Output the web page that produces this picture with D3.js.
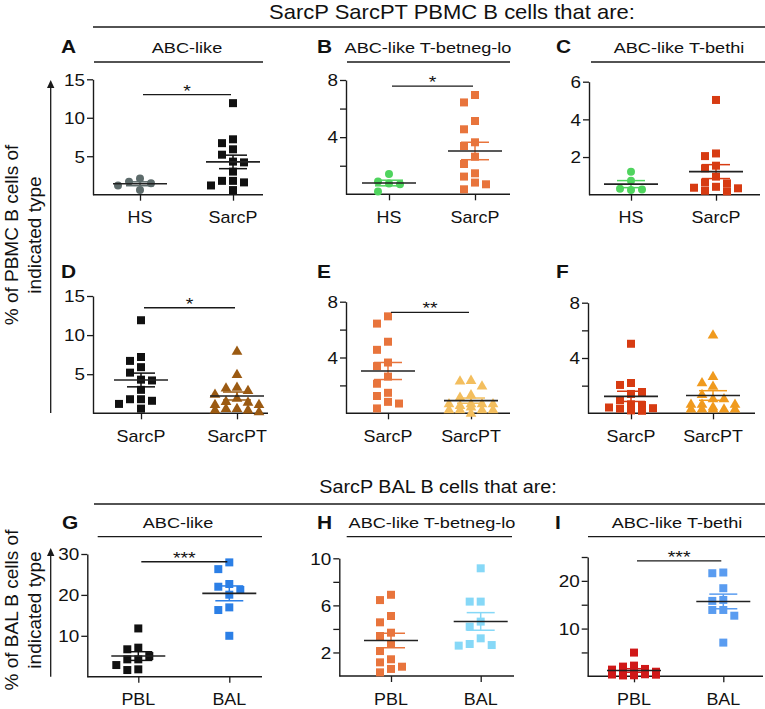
<!DOCTYPE html>
<html><head><meta charset="utf-8">
<script src="https://cdn.jsdelivr.net/npm/d3@7"></script>
<style>
body{margin:0;background:#fff;}
svg{display:block;font-family:"Liberation Sans",Arial,Helvetica,sans-serif;}
</style></head><body>
<svg id="chart" width="765" height="709"></svg>
<script>
// ---------------- DATA ----------------
const catsHS = ["HS", "SarcP"];
const catsPT = ["SarcP", "SarcPT"];
const catsBAL = ["PBL", "BAL"];

// % of PBMC B cells – ABC-like
const hsABC = [1.5, 2.1, 1.2, 1.7, 0.6];
const sarcpABC = [11.9, 7.2, 6.7, 5.9, 5.2, 4.3, 4.2, 3.0, 1.8, 1.8, 1.6, 1.2, 0.6];
const sarcptABC = [8.0, 5.04, 3.3, 3.4, 3.0, 2.5, 2.0, 1.6, 1.5, 1.2, 1.2, 0.68, 0.68, 0.51, 0.51, 0.26];
// ABC-like T-betneg-lo
const hsTbetLo = [0.75, 1.42, 0.7, 0.89, 0.19];
const sarcpTbetLo = [6.95, 6.43, 5.13, 4.55, 3.64, 3.38, 2.63, 2.12, 1.47, 1.24, 0.82, 0.7, 0.35];
const sarcptTbetLo = [2.4, 2.35, 2.0, 1.36, 1.19, 0.72, 0.72, 0.72, 0.72, 0.3, 0.3, 0.3, 0.3, 0.05, 0.5, 0.6];
// ABC-like T-bethi
const hsTbetHi = [1.22, 0.32, 0.25, 0.28, 0.74];
const sarcpTbetHi = [5.03, 2.19, 2.05, 1.54, 1.4, 0.96, 0.65, 0.6, 0.42, 0.34, 0.37, 0.21, 0.18];
const sarcptTbetHi = [5.7, 2.7, 2.25, 2.0, 1.4, 1.1, 1.1, 0.7, 0.7, 0.7, 0.35, 0.35, 0.35, 0.35, 0.35, 0.5];
// % of BAL B cells
const pblABC = [11.8, 6.7, 7.1, 5.05, 4.24, 4.24, 2.85, 1.63, 1.8];
const balABC = [27.95, 26.3, 22.0, 22.66, 21.2, 20.05, 16.95, 16.3, 10.0];
const pblTbetLo = [6.9, 6.45, 5.1, 4.56, 3.68, 3.4, 2.72, 2.12, 1.42, 1.16, 0.79, 0.6, 0.31];
const balTbetLo = [9.15, 6.32, 6.32, 4.62, 4.19, 3.2, 2.72, 2.58, 2.63];
const pblTbetHi = [4.97, 2.24, 2.03, 1.54, 1.4, 0.96, 0.65, 0.6, 0.42, 0.34, 0.37, 0.21, 0.18];
const balTbetHi = [21.6, 21.75, 18.46, 13.9, 15.8, 16.0, 13.9, 12.7, 7.06];

// axis ticks
const ticks15 = [5, 10, 15];
const ticks8 = [2, 4, 6, 8];
const labels8 = [4, 8];
const ticks6 = [2, 4, 6];
const ticks30 = [10, 20, 30];
const ticks10 = [2, 4, 6, 8, 10];
const labels10 = [2, 6, 10];
const ticks25 = [5, 10, 15, 20, 25];
const labels25 = [10, 20];

// significance
const sigMarks = ["*", "*", "", "*", "**", "", "***", "", "***"];
const sigLevels = [13.0, 7.57, null, 13.5, 7.24, null, 28.1, null, 24.2];

const panelLetters = ["A", "B", "C", "D", "E", "F", "G", "H", "I"];
const panelTitles = ["ABC-like", "ABC-like T-betneg-lo", "ABC-like T-bethi", "", "", "", "ABC-like", "ABC-like T-betneg-lo", "ABC-like T-bethi"];
const sectionTitles = ["SarcP SarcPT PBMC B cells that are:", "SarcP BAL B cells that are:"];
const yLabels = [["% of PBMC B cells of", "indicated type"], ["% of BAL B cells of", "indicated type"]];

// ---------------- STYLE / LAYOUT ----------------
const C = {
  gray: "#5d6b6b", black: "#111111", green: "#4fd45e", orange: "#e8743c",
  red: "#d73b12", brown: "#9b5a12", lorange: "#f3be5e", orangeT: "#f09a1e",
  blueG: "#2b7fe6", cyan: "#86d8f7", blueI: "#5a9cf0", redI: "#d01818"
};
const INK = "#1a1a1a";
const FONT = "'Liberation Sans', Arial, Helvetica, sans-serif";

const panels = [
  {cats: catsHS, series: [hsABC, sarcpABC], colors: [C.gray, C.black], shapes: ["circle", "square"],
   ymax: 15, ticks: ticks15, labels: ticks15, x0: 93, x1: 263, catX: [140, 233], y0: 194.7, yTop: 79.3,
   letterX: 61, letterY: 53, titleX: 187, titleY: 53, ulX: [94, 263], ulY: 62},
  {cats: catsHS, series: [hsTbetLo, sarcpTbetLo], colors: [C.green, C.orange], shapes: ["circle", "square"],
   ymax: 8, ticks: ticks8, labels: labels8, x0: 346, x1: 510, catX: [389, 475], y0: 194.3, yTop: 80,
   letterX: 317, letterY: 53, titleX: 428, titleY: 53, ulX: [347, 510], ulY: 62},
  {cats: catsHS, series: [hsTbetHi, sarcpTbetHi], colors: [C.green, C.red], shapes: ["circle", "square"],
   ymax: 6, ticks: ticks6, labels: ticks6, x0: 589, x1: 760, catX: [631, 716], y0: 194.7, yTop: 81.7,
   letterX: 556, letterY: 53, titleX: 679, titleY: 53, ulX: [591, 765], ulY: 62},
  {cats: catsPT, series: [sarcpABC, sarcptABC], colors: [C.black, C.brown], shapes: ["square", "triangle"],
   ymax: 15, ticks: ticks15, labels: ticks15, x0: 93, x1: 268, catX: [141, 237], y0: 413.3, yTop: 296,
   letterX: 61, letterY: 278},
  {cats: catsPT, series: [sarcpTbetLo, sarcptTbetLo], colors: [C.orange, C.lorange], shapes: ["square", "triangle"],
   ymax: 8, ticks: ticks8, labels: labels8, x0: 346, x1: 510, catX: [388, 471], y0: 413.3, yTop: 301.7,
   letterX: 317, letterY: 278},
  {cats: catsPT, series: [sarcpTbetHi, sarcptTbetHi], colors: [C.red, C.orangeT], shapes: ["square", "triangle"],
   ymax: 8, ticks: ticks8, labels: labels8, x0: 588, x1: 755, catX: [631, 713], y0: 413.3, yTop: 302.7,
   letterX: 556, letterY: 278},
  {cats: catsBAL, series: [pblABC, balABC], colors: [C.black, C.blueG], shapes: ["square", "square"],
   ymax: 30, ticks: ticks30, labels: ticks30, x0: 87.3, x1: 262, catX: [138.3, 229.3], y0: 676.7, yTop: 554,
   letterX: 62, letterY: 529, titleX: 178, titleY: 528, ulX: [97.7, 262], ulY: 536.7},
  {cats: catsBAL, series: [pblTbetLo, balTbetLo], colors: [C.orange, C.cyan], shapes: ["square", "square"],
   ymax: 10, ticks: ticks10, labels: labels10, x0: 339.3, x1: 514, catX: [391, 480.7], y0: 676, yTop: 558.3,
   letterX: 317, letterY: 529, titleX: 432, titleY: 528, ulX: [346.7, 512], ulY: 536.7},
  {cats: catsBAL, series: [pblTbetHi, balTbetHi], colors: [C.redI, C.blueI], shapes: ["square", "square"],
   ymax: 25, ticks: ticks25, labels: labels25, x0: 587.7, x1: 763, catX: [634, 723.3], y0: 676.3, yTop: 557,
   letterX: 555, letterY: 529, titleX: 677, titleY: 528, ulX: [588, 765], ulY: 536.7}
];

const svg = d3.select("#chart");

function txt(parent, x, y, s, o = {}) {
  const sx = o.sx == null ? 1.18 : o.sx;
  return parent.append("text")
    .attr("transform", `translate(${x},${y}) scale(${sx},1)`)
    .attr("text-anchor", o.anchor || "middle")
    .attr("font-size", o.size || 15)
    .attr("font-weight", o.weight || "normal")
    .attr("font-family", FONT)
    .attr("fill", o.fill || "#111")
    .text(s);
}
function hline(x1, x2, y, w = 1.3, c = INK) {
  svg.append("line").attr("x1", x1).attr("x2", x2).attr("y1", y).attr("y2", y)
    .attr("stroke", c).attr("stroke-width", w);
}

// compact swarm layout: integer column offsets, overlap allowed beyond maxCol
function swarm(vals, yScale, step, thr, maxCol) {
  const idx = vals.map((v, i) => i).sort((a, b) => vals[b] - vals[a]);
  const placed = [];
  const off = new Array(vals.length).fill(0);
  const cand = [0];
  for (let c = 1; c <= maxCol; c++) cand.push(-c, c);
  for (const i of idx) {
    const py = yScale(vals[i]);
    let best = null, bestGap = -1;
    for (const o of cand) {
      const same = placed.filter(q => q.o === o);
      const gap = same.length ? d3.min(same, q => Math.abs(q.py - py)) : Infinity;
      if (gap >= thr) { best = o; break; }
      if (gap > bestGap) { bestGap = gap; best = o; }
    }
    off[i] = best; placed.push({o: best, py});
  }
  return off.map(o => o * step);
}

const squareSym = d3.symbol().type(d3.symbolSquare).size(64);
const circleSym = d3.symbol().type(d3.symbolCircle).size(50);
const triSym = d3.symbol().type(d3.symbolTriangle).size(50);
const symOf = {square: squareSym, circle: circleSym, triangle: triSym};

// ---------------- SECTION TITLES ----------------
txt(svg, 452, 19, sectionTitles[0], {size: 20, sx: 1.1});
hline(93, 765, 27);
txt(svg, 438, 493, sectionTitles[1], {size: 18.5, sx: 1.07});
hline(94, 765, 504);

// ---------------- Y LABELS + ARROWS ----------------
function yLabel(lines, cy, yTip, yBot) {
  const g = svg.append("g");
  [18, 41].forEach((bx, i) => {
    g.append("text").attr("transform", `translate(${bx},${cy}) rotate(-90)`)
      .attr("text-anchor", "middle").attr("font-size", 19).attr("font-family", FONT)
      .attr("fill", "#111").text(lines[i]);
  });
  g.append("line").attr("x1", 50.7).attr("x2", 50.7).attr("y1", yTip + 6).attr("y2", yBot)
    .attr("stroke", INK).attr("stroke-width", 1.3);
  g.append("path").attr("d", `M50.7,${yTip} L47,${yTip + 8} L54.4,${yTip + 8} Z`).attr("fill", INK);
}
yLabel(yLabels[0], 235, 80, 413);
yLabel(yLabels[1], 610, 548, 676.7);

// ---------------- PANELS ----------------
panels.forEach((p, pi) => {
  const y = d3.scaleLinear().domain([0, p.ymax]).range([p.y0, p.yTop]);
  const x = d3.scalePoint().domain(p.cats).range(p.catX);
  const g = svg.append("g");

  // letter / title
  txt(g, p.letterX, p.letterY, panelLetters[pi], {size: 19, weight: "bold", anchor: "start", sx: 1.1});
  if (panelTitles[pi]) {
    txt(g, p.titleX, p.titleY, panelTitles[pi], {size: 15.5, sx: 1.17});
    hline(p.ulX[0], p.ulX[1], p.ulY);
  }

  // y axis
  const yAxis = d3.axisLeft(y).tickValues(p.ticks).tickSize(6).tickSizeOuter(0)
    .tickFormat(d => p.labels.includes(d) ? String(d) : "");
  const ga = g.append("g").attr("transform", `translate(${p.x0},0)`).call(yAxis)
    .attr("font-size", null).attr("font-family", null);
  ga.select(".domain").attr("stroke", INK).attr("stroke-width", 1.4);
  ga.selectAll(".tick line").attr("stroke", INK).attr("stroke-width", 1.3);
  ga.selectAll(".tick text").attr("x", null).attr("dy", "0.36em")
    .attr("transform", "translate(-8,0) scale(1.18,1)")
    .attr("font-size", 16).attr("font-family", FONT).attr("fill", "#111");

  // x axis
  const xAxis = d3.axisBottom(x).tickSize(6).tickSizeOuter(0).tickFormat("");
  const gx = g.append("g").attr("transform", `translate(0,${p.y0})`).call(xAxis);
  gx.select(".domain").attr("d", `M${p.x0},0H${p.x1}`).attr("stroke", INK).attr("stroke-width", 1.4);
  gx.selectAll(".tick line").attr("stroke", INK).attr("stroke-width", 1.3);
  p.cats.forEach(c => txt(g, x(c), p.y0 + 28.5, c, {size: 16, sx: 1.12}));

  // points + mean/SEM
  p.series.forEach((vals, si) => {
    const cx = x(p.cats[si]);
    const offs = swarm(vals, y, 11, 9, 2);
    g.append("g").selectAll("path").data(vals).join("path")
      .attr("d", symOf[p.shapes[si]])
      .attr("transform", (d, i) => `translate(${cx + offs[i]},${y(d) + (p.shapes[si] === "triangle" ? 1 : 0)})`)
      .attr("fill", p.colors[si]);
    const m = d3.mean(vals);
    const sem = d3.deviation(vals) / Math.sqrt(vals.length);
    const col = p.colors[si];
    const eg = g.append("g").attr("stroke", col).attr("stroke-width", 1.5);
    eg.append("line").attr("x1", cx).attr("x2", cx).attr("y1", y(m - sem)).attr("y2", y(m + sem));
    [m - sem, m + sem].forEach(v => eg.append("line").attr("x1", cx - 14).attr("x2", cx + 14)
      .attr("y1", y(v)).attr("y2", y(v)));
    g.append("line").attr("x1", cx - 27).attr("x2", cx + 27).attr("y1", y(m)).attr("y2", y(m))
      .attr("stroke", "#222").attr("stroke-width", 1.6);
  });

  // significance
  if (sigMarks[pi]) {
    const ly = y(sigLevels[pi]);
    const xa = x(p.cats[0]) + 3, xb = x(p.cats[1]) - 2;
    g.append("line").attr("x1", xa).attr("x2", xb).attr("y1", ly).attr("y2", ly)
      .attr("stroke", INK).attr("stroke-width", 1.3);
    txt(g, (xa + xb) / 2, ly + 2, sigMarks[pi], {size: 17, sx: 1.15});
  }
});
</script>
</body></html>
